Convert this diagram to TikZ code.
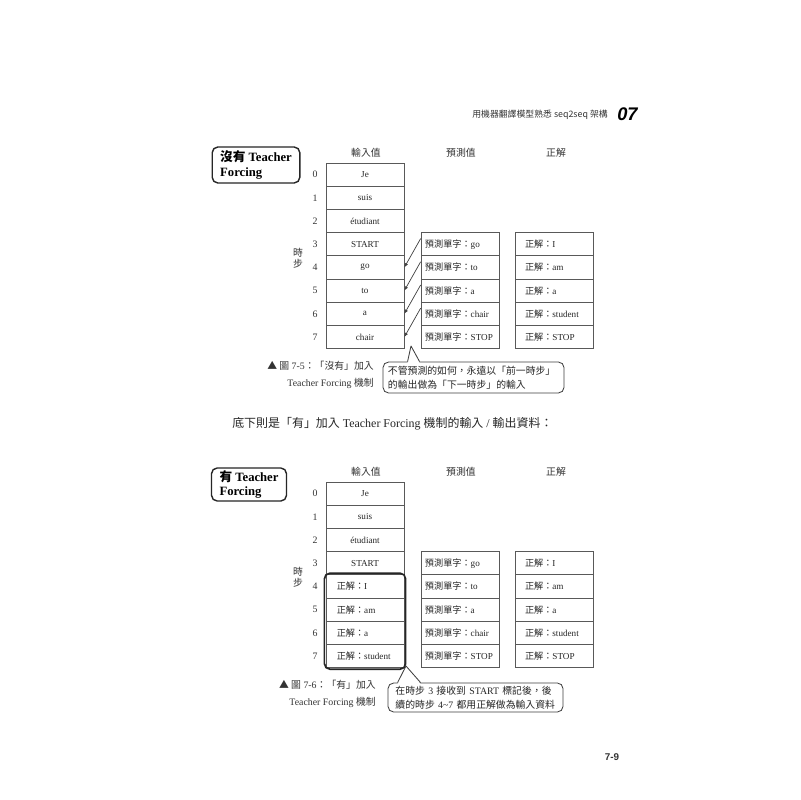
\documentclass[tikz,border=0pt]{standalone}
\usepackage{fontspec}
\setmainfont{Liberation Serif}
\newfontfamily\cjkfont{Noto Sans CJK TC}
\newfontfamily\headfont{Liberation Sans}
\usetikzlibrary{positioning,arrows.meta,fit,calc}
\newcommand{\zh}[1]{{\cjkfont #1}}
\newcommand{\cellsize}{\fontsize{6.5}{8}\selectfont}

\begin{document}
\begin{tikzpicture}[x=0.025cm, y=-0.025cm,
  lbl/.style={inner sep=0pt, text=black!80, font=\fontsize{7}{8}\selectfont},
  cell/.style={draw=black!65, line width=0.5pt, minimum width=1.95cm, minimum height=0.58cm, inner sep=0pt, text=black!85, font=\cellsize},
  predcell/.style={cell, text width=1.75cm, inner xsep=0.1cm, align=left},
  anscell/.style={cell, text width=1.45cm, inner xsep=0.25cm, align=left},
  feedcell/.style={cell, text width=1.41cm, inner xsep=0.27cm, align=left},
  titlebox/.style={draw=black!85, line width=1pt, rounded corners=4pt, inner xsep=0.2cm, inner ysep=0pt, align=left, font=\fontsize{9}{10}\selectfont\bfseries},
  note/.style={draw=black!75, line width=0.6pt, rounded corners=4pt, fill=white, inner ysep=0pt, align=left, text=black!85, font=\fontsize{7}{10}\selectfont},
  forcebox/.style={draw=black!85, line width=1.2pt, rounded corners=4pt, inner sep=0.9pt},
  feed/.style={draw=black!75, line width=0.5pt, -{Latex[length=3pt,width=2.4pt]}},
  tail/.style={draw=black!75, line width=0.6pt, line join=round}
]
\fill[white] (0,0) rectangle (800,800);
\useasboundingbox (0,0) rectangle (800,800);

\node[lbl, anchor=east, font=\fontsize{6.3}{7}\selectfont] (runhead) at (608,115) {\zh{用機器翻譯模型熟悉 seq2seq 架構}};
\node[lbl, anchor=west, text=black, font=\headfont\fontsize{13}{13}\selectfont\bfseries\itshape] (chap) at (617,114) {07};

\node[titlebox, minimum height=0.9cm] (titleA) at (256,165) {\zh{沒有} Teacher\\Forcing};
\node[lbl] (hinA) at (366,153) {\zh{輸入值}};
\node[lbl] (hprA) at (461,153) {\zh{預測值}};
\node[lbl] (hokA) at (556,153) {\zh{正解}};
\node[lbl, align=center, font=\fontsize{7}{7.5}\selectfont] (stepA) at (298,258) {\zh{時}\\\zh{步}};

\node[lbl] (nA0) at (315,174.6) {0};
\node[lbl] (nA1) at (315,197.8) {1};
\node[lbl] (nA2) at (315,221.0) {2};
\node[lbl] (nA3) at (315,244.2) {3};
\node[lbl] (nA4) at (315,267.4) {4};
\node[lbl] (nA5) at (315,290.6) {5};
\node[lbl] (nA6) at (315,313.8) {6};
\node[lbl] (nA7) at (315,337.0) {7};

\node[cell] (inA0) at (365,174.6) {Je};
\node[cell] (inA1) at (365,197.8) {suis};
\node[cell] (inA2) at (365,221.0) {étudiant};
\node[cell] (inA3) at (365,244.2) {START};
\node[cell] (inA4) at (365,267.4) {go};
\node[cell] (inA5) at (365,290.6) {to};
\node[cell] (inA6) at (365,313.8) {a};
\node[cell] (inA7) at (365,337.0) {chair};

\node[predcell] (prA3) at (460,244.2) {\zh{預測單字：}go};
\node[predcell] (prA4) at (460,267.4) {\zh{預測單字：}to};
\node[predcell] (prA5) at (460,290.6) {\zh{預測單字：}a};
\node[predcell] (prA6) at (460,313.8) {\zh{預測單字：}chair};
\node[predcell] (prA7) at (460,337.0) {\zh{預測單字：}STOP};

\node[anscell] (okA3) at (554,244.2) {\zh{正解：}I};
\node[anscell] (okA4) at (554,267.4) {\zh{正解：}am};
\node[anscell] (okA5) at (554,290.6) {\zh{正解：}a};
\node[anscell] (okA6) at (554,313.8) {\zh{正解：}student};
\node[anscell] (okA7) at (554,337.0) {\zh{正解：}STOP};

\draw[feed] ([yshift=4pt]prA3.west) -- (inA4.east);
\draw[feed] ([yshift=4pt]prA4.west) -- (inA5.east);
\draw[feed] ([yshift=4pt]prA5.west) -- (inA6.east);
\draw[feed] ([yshift=4pt]prA6.west) -- (inA7.east);

\node[note, text width=4.275cm, inner xsep=0.125cm, minimum height=0.775cm] (noteA) at (473.5,377.5) {\zh{不管預測的如何，永遠以「前一時步」}\\\zh{的輸出做為「下一時步」的輸入}};
\coordinate (tipA) at (411,346);
\fill[white] ($(noteA.north west)+(25,1.5)$) -- (tipA) -- ($(noteA.north west)+(37,1.5)$) -- cycle;
\draw[tail] ($(noteA.north west)+(25,0)$) -- (tipA) -- ($(noteA.north west)+(37,0)$);
\node[lbl, align=right, anchor=east, font=\fontsize{7}{12}\selectfont] (capA) at (374,375) {\zh{▲ 圖} 7-5\zh{：「沒有」加入}\\Teacher Forcing \zh{機制}};

\node[lbl, anchor=west, text=black!85, font=\fontsize{8.5}{10}\selectfont] (lead) at (232,424) {\zh{底下則是「有」加入} Teacher Forcing \zh{機制的輸入} / \zh{輸出資料：}};

\node[titlebox, minimum height=0.825cm] (titleB) at (249,484.5) {\zh{有} Teacher\\Forcing};
\node[lbl] (hinB) at (366,472) {\zh{輸入值}};
\node[lbl] (hprB) at (461,472) {\zh{預測值}};
\node[lbl] (hokB) at (556,472) {\zh{正解}};
\node[lbl, align=center, font=\fontsize{7}{7.5}\selectfont] (stepB) at (298,577) {\zh{時}\\\zh{步}};

\node[lbl] (nB0) at (315,493.6) {0};
\node[lbl] (nB1) at (315,516.8) {1};
\node[lbl] (nB2) at (315,540.0) {2};
\node[lbl] (nB3) at (315,563.2) {3};
\node[lbl] (nB4) at (315,586.4) {4};
\node[lbl] (nB5) at (315,609.6) {5};
\node[lbl] (nB6) at (315,632.8) {6};
\node[lbl] (nB7) at (315,656.0) {7};

\node[cell] (inB0) at (365,493.6) {Je};
\node[cell] (inB1) at (365,516.8) {suis};
\node[cell] (inB2) at (365,540.0) {étudiant};
\node[cell] (inB3) at (365,563.2) {START};
\node[feedcell] (inB4) at (365,586.4) {\zh{正解：}I};
\node[feedcell] (inB5) at (365,609.6) {\zh{正解：}am};
\node[feedcell] (inB6) at (365,632.8) {\zh{正解：}a};
\node[feedcell] (inB7) at (365,656.0) {\zh{正解：}student};

\node[predcell] (prB3) at (460,563.2) {\zh{預測單字：}go};
\node[predcell] (prB4) at (460,586.4) {\zh{預測單字：}to};
\node[predcell] (prB5) at (460,609.6) {\zh{預測單字：}a};
\node[predcell] (prB6) at (460,632.8) {\zh{預測單字：}chair};
\node[predcell] (prB7) at (460,656.0) {\zh{預測單字：}STOP};

\node[anscell] (okB3) at (554,563.2) {\zh{正解：}I};
\node[anscell] (okB4) at (554,586.4) {\zh{正解：}am};
\node[anscell] (okB5) at (554,609.6) {\zh{正解：}a};
\node[anscell] (okB6) at (554,632.8) {\zh{正解：}student};
\node[anscell] (okB7) at (554,656.0) {\zh{正解：}STOP};

\node[note, text width=4.0cm, inner xsep=0.1875cm, minimum height=0.725cm] (noteB) at (475.5,697.5) {\zh{在時步} 3 \zh{接收到} START \zh{標記後，後}\\\zh{續的時步} 4\textasciitilde7 \zh{都用正解做為輸入資料}};
\coordinate (tipB) at (406,666);
\fill[white] ($(noteB.north west)+(10,1.5)$) -- (tipB) -- ($(noteB.north west)+(33,1.5)$) -- cycle;
\draw[tail] ($(noteB.north west)+(10,0)$) -- (tipB) -- ($(noteB.north west)+(33,0)$);
\node[forcebox, fit=(inB4)(inB7)] (forced) {};
\node[lbl, align=right, anchor=east, font=\fontsize{7}{12}\selectfont] (capB) at (376,694) {\zh{▲ 圖} 7-6\zh{：「有」加入}\\Teacher Forcing \zh{機制}};

\node[lbl, font=\headfont\fontsize{7}{8}\selectfont\bfseries] (folio) at (612,757) {7-9};

\end{tikzpicture}
\end{document}
